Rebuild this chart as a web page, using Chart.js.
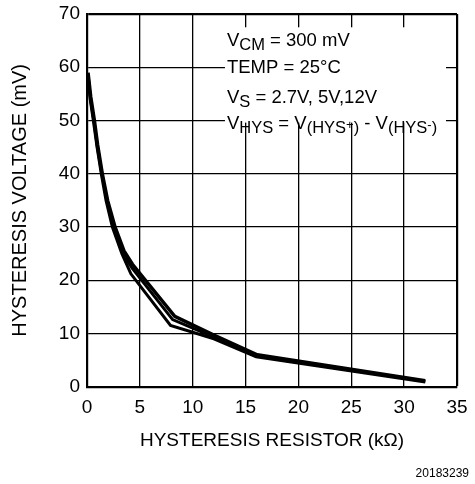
<!DOCTYPE html>
<html>
<head>
<meta charset="utf-8">
<script src="https://cdn.jsdelivr.net/npm/chart.js@4"></script>
<style>
  html, body { margin: 0; padding: 0; background: #fff; }
  #wrap { width: 475px; height: 484px; }
</style>
</head>
<body>
<div id="wrap"><canvas id="chart"></canvas></div>
<script>
// hysteresis resistor (kOhm) vs hysteresis voltage (mV), one curve per supply
var resA = [0.1, 0.35, 0.7, 1.0, 1.45, 1.95, 2.65, 3.5, 4.3, 8.3, 12, 16.1, 32];
var hysA = [59, 54.5, 50, 45.5, 40, 35, 30, 25.5, 23, 13.2, 9.7, 6.0, 1.1];
var resB = [0.1, 0.3, 0.6, 0.95, 1.35, 1.8, 2.4, 3.3, 4.15, 7.9, 12, 16, 32];
var hysB = [58, 54, 50, 45, 40, 35, 30, 25, 21.2, 11.5, 9.0, 5.6, 0.9];
var resC = [0.1, 0.33, 0.65, 0.98, 1.4, 1.9, 2.55, 3.4, 4.25, 8.1, 12, 16.05, 32];
var hysC = [58.6, 54, 50, 45, 40, 35, 30, 25, 22.3, 12.6, 9.3, 5.8, 1.0];

var xTicksMax = 35;
var yTicksMax = 70;
var figNumber = '20183239';

function pts(xs, ys) {
  return xs.map((x, i) => ({ x: x, y: ys[i] }));
}

Chart.defaults.font.family = '"Liberation Sans", Arial, Helvetica, sans-serif';
Chart.defaults.color = '#000';

// draw runs of text with subscripts (dy > 0 moves down)
function drawRuns(ctx, x, y, runs) {
  runs.forEach(r => {
    ctx.font = r.size + 'px "Liberation Sans", Arial, sans-serif';
    ctx.fillText(r.t, x, y + (r.dy || 0));
    x += ctx.measureText(r.t).width;
  });
}

var notes = {
  id: 'notes',
  afterDraw: function(chart) {
    var ctx = chart.ctx;
    var xs = chart.scales.x, ys = chart.scales.y;
    var l = xs.getPixelForValue(13.05), r = xs.getPixelForValue(33.96);
    var t = ys.getPixelForValue(67.5), b = ys.getPixelForValue(49.6);
    ctx.save();
    ctx.fillStyle = '#fff';
    ctx.fillRect(l, t, r - l, b - t);
    ctx.fillStyle = '#000';
    ctx.textBaseline = 'alphabetic';
    ctx.textAlign = 'left';
    var x0 = l + 2;
    var big = 18.5, sub = 16.5, sup = 13;
    drawRuns(ctx, x0, ys.getPixelForValue(63.9), [
      { t: 'V', size: big }, { t: 'CM', size: sub, dy: 4 }, { t: ' = 300 mV', size: big }
    ]);
    drawRuns(ctx, x0, ys.getPixelForValue(59.0), [
      { t: 'TEMP = 25°C', size: big }
    ]);
    drawRuns(ctx, x0, ys.getPixelForValue(53.3), [
      { t: 'V', size: big }, { t: 'S', size: sub, dy: 4 }, { t: ' = 2.7V, 5V,12V', size: big }
    ]);
    drawRuns(ctx, x0, ys.getPixelForValue(48.4), [
      { t: 'V', size: big }, { t: 'HYS', size: sub, dy: 4 }, { t: ' = V', size: big },
      { t: '(HYS', size: sub, dy: 4 }, { t: '+', size: sup, dy: 0 }, { t: ')', size: sub, dy: 4 },
      { t: ' - V', size: big },
      { t: '(HYS', size: sub, dy: 4 }, { t: '-', size: sup, dy: 0 }, { t: ')', size: sub, dy: 4 }
    ]);
    ctx.font = '12px "Liberation Sans", Arial, sans-serif';
    ctx.textAlign = 'right';
    ctx.fillText(figNumber, chart.width - 6, chart.height - 7);
    ctx.restore();
  }
};

var line = { borderColor: '#000', backgroundColor: '#000', borderWidth: 3, pointRadius: 0, tension: 0, fill: false };

new Chart('chart', {
  type: 'line',
  data: {
    datasets: [
      Object.assign({ label: '2.7V', data: pts(resA, hysA) }, line, { borderWidth: 3.5 }),
      Object.assign({ label: '5V', data: pts(resC, hysC) }, line),
      Object.assign({ label: '12V', data: pts(resB, hysB) }, line)
    ]
  },
  options: {
    responsive: true,
    maintainAspectRatio: false,
    animation: false,
    layout: { padding: { left: 0, right: 18, top: 14, bottom: 32 } },
    plugins: { legend: { display: false }, tooltip: { enabled: false } },
    scales: {
      x: {
        type: 'linear',
        min: 0, max: xTicksMax,
        ticks: { stepSize: 5, padding: 7, font: { size: 19, lineHeight: 1.5 } },
        grid: { color: '#000', lineWidth: c => c.tick && c.tick.value === xTicksMax ? 2.2 : 1.3, drawTicks: false },
        border: { color: '#000', width: 2.2 },
        title: { display: true, text: 'HYSTERESIS RESISTOR (kΩ)', font: { size: 19 }, padding: { top: 0, bottom: 0 } }
      },
      y: {
        min: 0, max: yTicksMax,
        afterFit: s => { s.width = 87; },
        ticks: { stepSize: 10, padding: 7, font: { size: 19, lineHeight: 0.6 } },
        grid: { color: '#000', lineWidth: c => c.tick && c.tick.value === yTicksMax ? 2.2 : 1.3, drawTicks: false },
        border: { color: '#000', width: 2.2 },
        title: { display: true, text: 'HYSTERESIS VOLTAGE (mV)', font: { size: 20 }, padding: { top: 8, bottom: 0 } }
      }
    }
  },
  plugins: [notes]
});
</script>
</body>
</html>
